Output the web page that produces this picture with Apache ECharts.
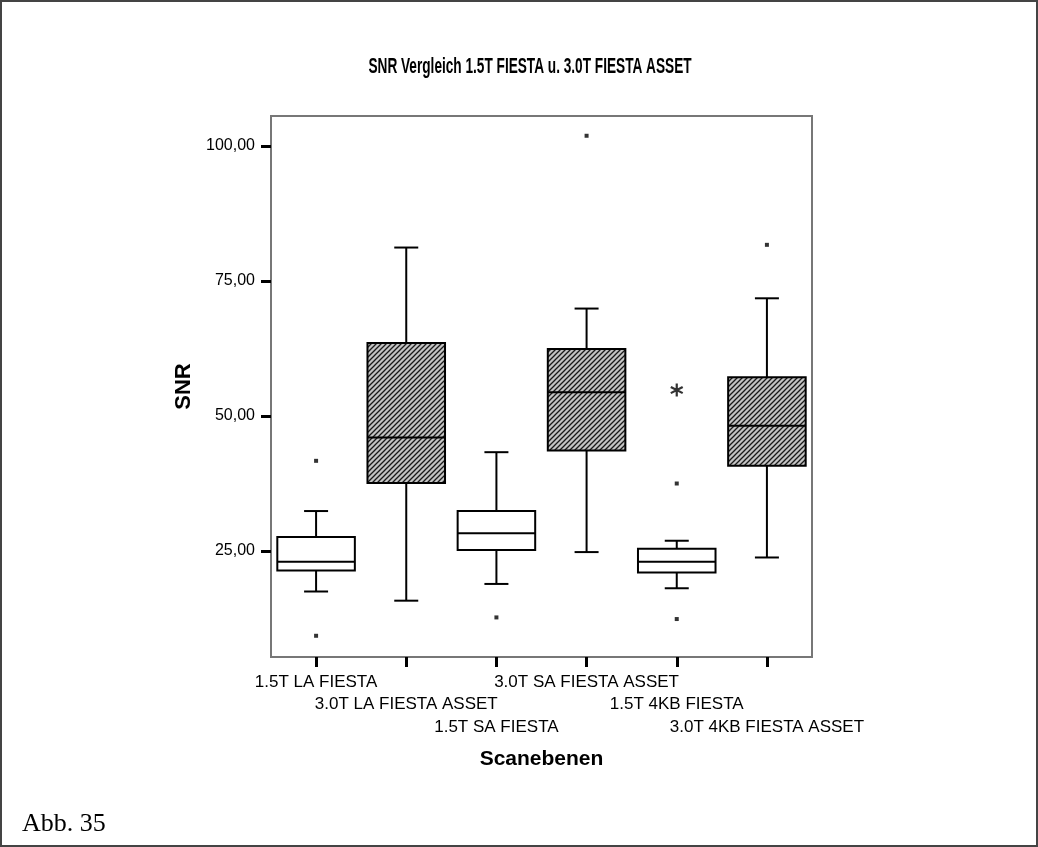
<!DOCTYPE html>
<html>
<head>
<meta charset="utf-8">
<title>SNR Vergleich</title>
<script src="https://cdn.jsdelivr.net/npm/echarts@6/dist/echarts.min.js"></script>
<style>
  html, body { margin: 0; padding: 0; background: #fff; }
  #chartBox { width: 1038px; height: 847px; }
</style>
</head>
<body>
<div id="chartBox"></div>
<script>
// Scanebenen (Kategorien)
var categories = ['1.5T LA FIESTA', '3.0T LA FIESTA ASSET', '1.5T SA FIESTA',
                  '3.0T SA FIESTA ASSET', '1.5T 4KB FIESTA', '3.0T 4KB FIESTA ASSET'];
// Boxplot-Kennwerte
var lowWhisker  = [17.5, 15.8, 18.9, 24.8, 18.1, 23.8];
var q1          = [21.4, 37.6, 25.2, 43.6, 21.0, 40.8];
var median      = [23.0, 46.0, 28.3, 54.4, 23.0, 48.2];
var q3          = [27.6, 63.5, 32.4, 62.4, 25.4, 57.2];
var highWhisker = [32.4, 81.2, 43.3, 69.9, 26.9, 71.8];
// Ausreisser [kategorie, wert]
var outliers = [[0, 41.7], [0, 9.3], [2, 12.7], [3, 101.9], [4, 37.5], [4, 12.4], [5, 81.7]];
// Extremwerte (*)
var extremes = [[4, 54.8]];
var yTicks = [25, 50, 75, 100];

var chart = echarts.init(document.getElementById('chartBox'));

// Schraffur fuer die 3.0T Boxen
var hatch = document.createElement('canvas');
hatch.width = 5; hatch.height = 5;
var hc = hatch.getContext('2d');
hc.fillStyle = '#c4c4c4';
hc.fillRect(0, 0, 5, 5);
hc.strokeStyle = '#1a1a1a';
hc.lineWidth = 1.3;
hc.beginPath();
hc.moveTo(0, 5); hc.lineTo(5, 0);
hc.moveTo(-1, 1); hc.lineTo(1, -1);
hc.moveTo(4, 6); hc.lineTo(6, 4);
hc.stroke();

function boxRows(is30) {
  var rows = [];
  for (var i = 0; i < categories.length; i++) {
    if ((categories[i].indexOf('3.0T') === 0) === is30) {
      rows.push([i, lowWhisker[i], q1[i], median[i], q3[i], highWhisker[i]]);
    }
  }
  return rows;
}

function makeRender(fill) {
  return function (params, api) {
    var x = api.value(0);
    var lo = api.coord([x, api.value(1)]);
    var b1 = api.coord([x, api.value(2)]);
    var md = api.coord([x, api.value(3)]);
    var b3 = api.coord([x, api.value(4)]);
    var hi = api.coord([x, api.value(5)]);
    var bw = api.size([1, 0])[0] * 0.86;
    var cx = lo[0];
    var cap = 12;
    var ls = { stroke: '#000', lineWidth: 2 };
    return {
      type: 'group',
      children: [
        { type: 'line', shape: { x1: cx, y1: lo[1], x2: cx, y2: b1[1] }, style: ls },
        { type: 'line', shape: { x1: cx, y1: b3[1], x2: cx, y2: hi[1] }, style: ls },
        { type: 'line', shape: { x1: cx - cap, y1: lo[1], x2: cx + cap, y2: lo[1] }, style: ls },
        { type: 'line', shape: { x1: cx - cap, y1: hi[1], x2: cx + cap, y2: hi[1] }, style: ls },
        { type: 'rect', shape: { x: cx - bw / 2, y: b3[1], width: bw, height: b1[1] - b3[1] },
          style: { fill: fill, stroke: '#000', lineWidth: 2 } },
        { type: 'line', shape: { x1: cx - bw / 2, y1: md[1], x2: cx + bw / 2, y2: md[1] }, style: ls }
      ]
    };
  };
}

var starPath = 'path://M4.2,0L5.8,0L5.8,10L4.2,10Z M0.3,3.3L1.1,1.9L9.7,6.7L8.9,8.1Z M0.3,6.7L8.9,1.9L9.7,3.3L1.1,8.1Z';
var labelFont = '"Liberation Sans", Arial, sans-serif';

var option = {
  animation: false,
  backgroundColor: '#fff',
  grid: {
    left: 271, top: 116, width: 541, height: 541,
    show: true, borderColor: '#777', borderWidth: 2, backgroundColor: '#fff'
  },
  xAxis: {
    type: 'category',
    data: categories,
    boundaryGap: true,
    name: 'Scanebenen',
    nameLocation: 'middle',
    nameGap: 92,
    nameTextStyle: { fontFamily: labelFont, fontWeight: 'bold', fontSize: 21, color: '#000' },
    axisLine: { show: true, lineStyle: { color: '#777', width: 2 } },
    axisTick: { show: true, alignWithLabel: true, length: 10, lineStyle: { color: '#000', width: 3 } },
    axisLabel: {
      interval: 0, margin: 14, color: '#000', fontFamily: labelFont, fontSize: 17, lineHeight: 22.5,
      formatter: function (v, i) {
        var pre = '';
        for (var k = 0; k < i % 3; k++) pre += '\n';
        return pre + v;
      }
    },
    splitLine: { show: false }
  },
  yAxis: {
    type: 'value',
    min: 5.37,
    max: 105.56,
    name: 'SNR',
    nameLocation: 'middle',
    nameGap: 75,
    nameTextStyle: { fontFamily: labelFont, fontWeight: 'bold', fontSize: 22, color: '#000' },
    axisLine: { show: true, lineStyle: { color: '#777', width: 2 } },
    axisTick: { show: true, length: 10, customValues: yTicks, lineStyle: { color: '#000', width: 3 } },
    axisLabel: {
      margin: 16, color: '#000', fontFamily: labelFont, fontSize: 16, customValues: yTicks,
      formatter: function (v) { return v.toFixed(2).replace('.', ','); }
    },
    splitLine: { show: false }
  },
  series: [
    { name: '1.5T', type: 'custom', renderItem: makeRender('#fff'), data: boxRows(false), z: 3 },
    { name: '3.0T', type: 'custom', renderItem: makeRender({ image: hatch, repeat: 'repeat' }), data: boxRows(true), z: 3 },
    { name: 'Ausreisser', type: 'scatter', data: outliers, symbol: 'rect', symbolSize: 4,
      itemStyle: { color: '#000' }, z: 4 },
    { name: 'Extremwerte', type: 'scatter', data: extremes, symbol: starPath, symbolSize: 13,
      itemStyle: { color: '#000' }, z: 4 }
  ],
  graphic: [
    { type: 'rect', shape: { x: 1, y: 1, width: 1036, height: 845 },
      style: { fill: 'none', stroke: '#444', lineWidth: 2 }, z: 10 },
    // Titel, schmal gesetzt wie im Original
    { type: 'text', x: 530, y: 67, scaleX: 0.62,
      style: { text: 'SNR Vergleich 1.5T FIESTA u. 3.0T FIESTA ASSET',
               font: 'bold 22px "Liberation Sans", Arial, sans-serif', fill: '#000',
               align: 'center', verticalAlign: 'middle' } },
    { type: 'text', left: 22, top: 811,
      style: { text: 'Abb. 35', font: '26px "Liberation Serif", "Times New Roman", serif', fill: '#000' } }
  ]
};

chart.setOption(option);
</script>
</body>
</html>
